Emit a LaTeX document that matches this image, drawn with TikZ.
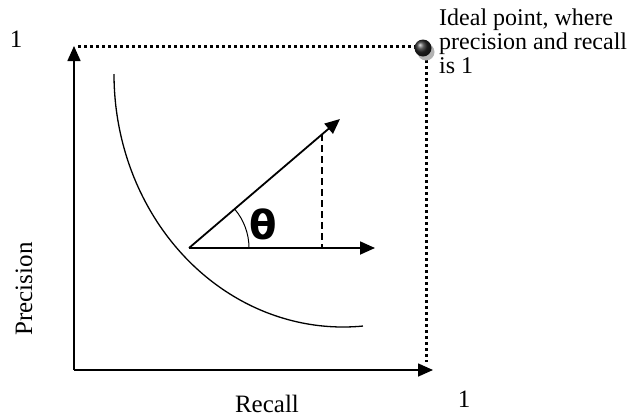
\documentclass[tikz,border=0pt]{standalone}
\usepackage{fontspec}
\setmainfont{Liberation Serif}
\newfontfamily\thetafont{DejaVu Sans}
\usetikzlibrary{arrows.meta,positioning,calc,shadings}

\begin{document}
\begin{tikzpicture}[x=1pt,y=-1pt,>={Triangle[length=15pt,width=13pt]},font=\fontsize{25}{25}\selectfont]
\tikzstyle{axis}=[->,line width=1.6pt]
\tikzstyle{dots}=[line width=3pt,dash pattern=on 3pt off 3pt]
\tikzstyle{lbl}=[inner sep=0pt]
\useasboundingbox (0,0) rectangle (643,416);
% axes
\coordinate (o) at (74,370);
\coordinate (ytop) at (74,46);
\coordinate (xend) at (433,370);
\coordinate (ideal) at (423,48);
\draw[axis] (o) -- (ytop);
\draw[axis] (o) -- (xend);
\draw[dots] (78,46) -- (420,46);
\draw[dots] (426,54) -- (426,362);
% ideal point
\fill[gray!60] ($(ideal)+(3,4)$) circle (8.5);
\shade[ball color=black!85] (ideal) circle (8.5);
% curve
\draw[line width=1.3pt] (114,74) arc[start angle=180,end angle=85,x radius=229,y radius=253];
% vector and its projection
\coordinate (v0) at (189,248);
\coordinate (v1) at (340,119);
\coordinate (h1) at (375,248);
\draw[->,line width=1.8pt] (v0) -- (v1);
\draw[->,line width=1.8pt] (v0) -- (h1);
\coordinate (dtop) at ($(v0)!0.881!(v1)$);
\draw[line width=1.8pt,dash pattern=on 7pt off 4pt] (dtop) -- (dtop |- v0);
\draw[line width=1pt] ($(v0)+(60,0)$) arc[start angle=0,end angle=-40.5,radius=60];
\node (theta) at (263,224) {\thetafont\bfseries\fontsize{40}{40}\selectfont θ};
% labels
\node[lbl] (oney) at (16,39) {1};
\node[lbl] (onex) at (464,399) {1};
\node[lbl,anchor=base] (recall) at (267,412) {Recall};
\node[lbl,rotate=90] (precision) at (24,289) {Precision};
\node[lbl,anchor=north west,align=left,font=\fontsize{24}{24}\selectfont] (note) at (439,9) {Ideal point, where\\precision and recall\\is 1};
\end{tikzpicture}
\end{document}
